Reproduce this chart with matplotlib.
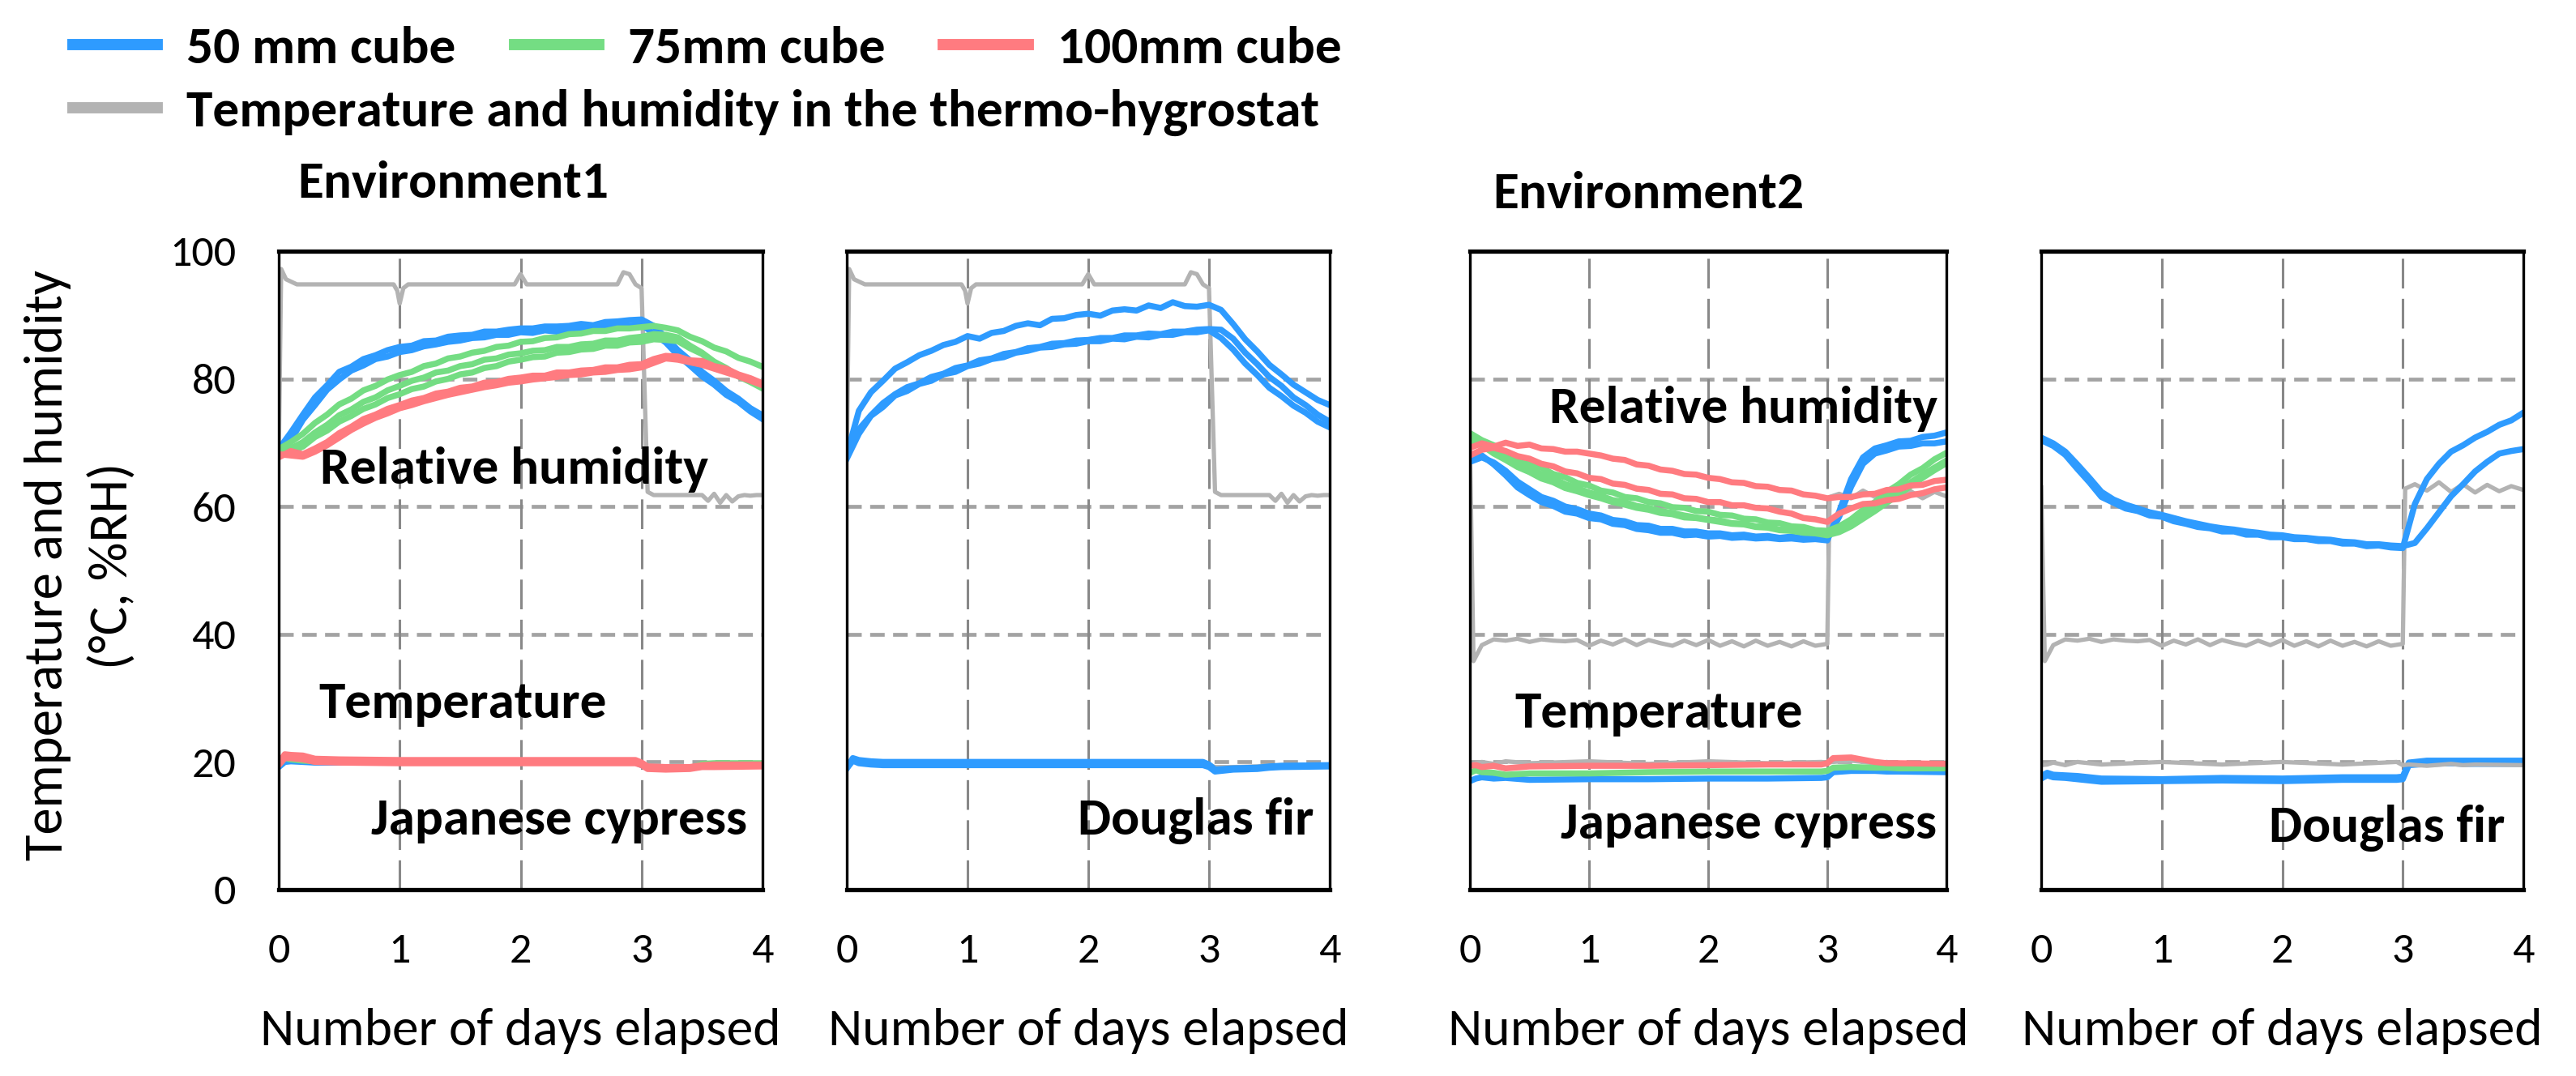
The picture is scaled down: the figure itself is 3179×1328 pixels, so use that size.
import numpy as np
import matplotlib
matplotlib.use("Agg")
import matplotlib.pyplot as plt
from matplotlib import font_manager as fm
from matplotlib.lines import Line2D

# ---- data ----
days = np.round(np.linspace(0, 4, 41), 1)

# Environment1, Japanese cypress, RH
e1c_blue_a = [69.0, 71.6, 74.4, 77.1, 79.0, 81.1, 81.9, 83.1, 83.7, 84.5, 85.0, 85.2, 85.9, 86.0, 86.6, 86.8, 86.9, 87.4, 87.4, 87.7, 87.9, 87.9, 88.2, 88.2, 88.3, 88.6, 88.4, 88.9, 89.0, 89.2, 89.3, 88.3, 86.5, 84.5, 82.9, 81.1, 79.7, 78.1, 76.9, 75.4, 74.3]
e1c_blue_b = [68.5, 70.4, 73.6, 75.9, 78.3, 79.9, 81.3, 82.1, 83.1, 83.5, 84.2, 84.5, 85.1, 85.4, 85.8, 86.0, 86.4, 86.5, 86.9, 86.9, 87.3, 87.2, 87.6, 87.4, 87.9, 87.8, 88.1, 88.0, 88.4, 88.3, 88.5, 87.1, 85.7, 83.7, 82.1, 80.4, 79.1, 77.5, 76.4, 74.9, 73.7]
e1c_green_a = [69.0, 70.1, 71.4, 73.1, 74.4, 76.0, 76.9, 78.2, 78.9, 79.9, 80.6, 81.1, 82.0, 82.4, 83.2, 83.5, 84.1, 84.4, 85.0, 85.2, 85.8, 85.9, 86.4, 86.5, 87.0, 87.1, 87.5, 87.5, 87.9, 87.9, 88.1, 88.3, 88.0, 87.6, 86.6, 85.9, 84.9, 84.3, 83.3, 82.7, 81.9]
e1c_green_b = [68.5, 69.1, 70.1, 71.6, 72.8, 74.3, 75.2, 76.4, 77.1, 78.2, 78.9, 79.7, 80.2, 81.0, 81.3, 82.0, 82.3, 83.0, 83.2, 83.8, 84.0, 84.4, 84.5, 85.0, 85.0, 85.4, 85.5, 86.0, 86.0, 86.4, 86.6, 87.0, 86.9, 86.5, 85.2, 84.1, 82.7, 81.7, 80.4, 79.5, 78.5]
e1c_green_c = [68.0, 68.6, 69.4, 70.9, 71.9, 73.3, 74.2, 75.3, 76.0, 77.0, 77.6, 78.4, 78.8, 79.6, 80.0, 80.7, 81.0, 81.7, 82.0, 82.7, 83.0, 83.4, 83.5, 84.1, 84.2, 84.6, 84.7, 85.2, 85.2, 85.7, 85.8, 86.2, 86.1, 85.9, 84.8, 83.9, 82.5, 81.6, 80.4, 79.7, 78.9]
e1c_red_a = [67.7, 68.7, 68.2, 69.1, 70.1, 71.5, 72.5, 73.7, 74.4, 75.3, 75.9, 76.6, 77.0, 77.7, 78.0, 78.6, 78.8, 79.4, 79.5, 80.0, 80.2, 80.5, 80.5, 81.0, 81.0, 81.3, 81.4, 81.8, 81.8, 82.2, 82.3, 83.1, 83.6, 83.5, 82.9, 82.8, 82.0, 81.6, 80.7, 80.1, 79.3]
e1c_red_b = [68.2, 68.0, 67.8, 68.6, 69.6, 70.8, 72.0, 73.0, 73.9, 74.6, 75.4, 75.9, 76.5, 77.0, 77.5, 77.9, 78.3, 78.7, 79.0, 79.4, 79.6, 79.9, 80.1, 80.3, 80.6, 80.7, 81.0, 81.1, 81.4, 81.5, 81.8, 82.5, 83.2, 83.0, 82.6, 82.2, 81.6, 81.0, 80.4, 79.7, 79.0]

# Environment1, Douglas fir, RH
e1f_blue_a = [68.1, 75.0, 77.9, 79.7, 81.6, 82.6, 83.7, 84.4, 85.3, 85.8, 86.7, 86.3, 87.2, 87.5, 88.3, 88.7, 88.4, 89.4, 89.5, 90.0, 90.2, 89.9, 90.7, 90.9, 90.7, 91.5, 91.1, 92.0, 91.4, 91.3, 91.6, 90.8, 88.6, 86.2, 84.3, 82.2, 80.7, 79.1, 77.9, 76.7, 75.9]
e1f_blue_b = [67.5, 71.4, 74.2, 75.6, 77.4, 78.1, 79.2, 79.7, 80.7, 81.1, 82.0, 82.4, 83.1, 83.4, 84.1, 84.4, 84.9, 85.0, 85.4, 85.5, 85.9, 85.9, 86.3, 86.2, 86.6, 86.5, 86.9, 86.9, 87.3, 87.3, 87.6, 86.4, 84.6, 82.4, 80.6, 78.6, 77.3, 75.8, 74.7, 73.3, 72.4]
e1f_blue_c = [67.8, 72.1, 74.3, 76.2, 77.6, 78.7, 79.3, 80.3, 80.8, 81.7, 82.1, 82.9, 83.2, 83.9, 84.2, 84.8, 85.0, 85.5, 85.6, 86.0, 86.1, 86.4, 86.4, 86.8, 86.8, 87.1, 87.0, 87.4, 87.4, 87.7, 87.8, 87.7, 86.3, 84.1, 82.3, 80.3, 78.9, 77.1, 75.9, 74.4, 73.3]

# Environment2, Japanese cypress, RH
e2c_blue_a = [67.6, 68.0, 66.6, 64.9, 63.0, 61.8, 60.7, 60.1, 59.2, 58.9, 58.2, 58.0, 57.3, 57.1, 56.5, 56.3, 55.9, 55.9, 55.5, 55.6, 55.3, 55.4, 55.1, 55.2, 55.0, 55.1, 54.9, 55.0, 54.8, 54.9, 54.7, 59.2, 64.3, 67.7, 69.1, 69.6, 70.2, 70.3, 70.9, 71.1, 71.6]
e2c_blue_b = [67.0, 67.7, 66.9, 65.6, 63.9, 62.7, 61.5, 60.9, 60.0, 59.6, 58.9, 58.6, 57.9, 57.7, 57.1, 57.0, 56.5, 56.5, 56.1, 56.1, 55.8, 55.8, 55.5, 55.6, 55.3, 55.4, 55.1, 55.3, 55.0, 55.1, 54.9, 58.4, 63.1, 66.7, 68.3, 68.8, 69.4, 69.5, 69.9, 69.9, 70.2]
e2c_green_a = [71.5, 70.4, 69.6, 68.4, 67.7, 66.7, 66.1, 65.1, 64.6, 63.7, 63.3, 62.5, 62.2, 61.5, 61.3, 60.7, 60.5, 59.9, 59.8, 59.3, 59.2, 58.7, 58.6, 58.1, 58.0, 57.5, 57.4, 56.9, 56.8, 56.3, 56.2, 56.9, 58.0, 59.5, 60.7, 62.3, 63.5, 65.0, 66.0, 67.4, 68.4]
e2c_green_b = [70.6, 70.0, 68.9, 67.8, 66.9, 66.0, 65.1, 64.4, 63.5, 62.9, 62.2, 61.7, 61.0, 60.7, 60.1, 59.8, 59.3, 59.0, 58.6, 58.3, 58.0, 57.8, 57.4, 57.3, 56.9, 56.8, 56.4, 56.3, 56.0, 55.9, 55.7, 56.3, 57.4, 58.7, 60.0, 61.3, 62.6, 63.8, 65.0, 66.1, 67.2]
e2c_green_c = [70.0, 69.6, 68.3, 67.3, 66.2, 65.4, 64.4, 63.8, 62.9, 62.4, 61.8, 61.3, 60.7, 60.3, 59.8, 59.5, 59.0, 58.8, 58.3, 58.2, 57.9, 57.6, 57.3, 57.2, 56.8, 56.7, 56.3, 56.2, 55.9, 55.8, 55.5, 56.0, 56.9, 58.1, 59.3, 60.6, 61.9, 63.2, 64.5, 65.7, 66.8]
e2c_red_a = [69.2, 69.9, 69.4, 70.0, 69.5, 69.7, 69.1, 69.0, 68.6, 68.6, 68.3, 68.0, 67.5, 67.3, 66.6, 66.4, 65.8, 65.6, 65.1, 65.0, 64.5, 64.3, 63.8, 63.7, 63.2, 63.1, 62.6, 62.5, 61.9, 61.7, 61.3, 61.5, 61.5, 61.9, 62.0, 62.6, 62.7, 63.3, 63.4, 64.0, 64.2]
e2c_red_b = [68.0, 68.9, 69.2, 68.7, 67.9, 67.5, 66.7, 66.3, 65.5, 65.2, 64.5, 64.3, 63.6, 63.4, 62.8, 62.6, 62.0, 61.9, 61.3, 61.2, 60.7, 60.7, 60.2, 60.2, 59.8, 59.7, 59.2, 58.9, 58.2, 58.0, 57.6, 58.9, 59.7, 60.4, 60.5, 61.0, 61.2, 61.8, 62.1, 62.7, 63.0]

# Environment2, Douglas fir, RH
e2f_blue_a = [70.4, 69.5, 68.1, 65.9, 63.8, 61.5, 60.6, 59.7, 59.3, 58.6, 58.4, 57.7, 57.3, 56.8, 56.6, 56.1, 56.1, 55.6, 55.6, 55.2, 55.2, 54.9, 54.9, 54.6, 54.6, 54.2, 54.2, 53.8, 53.9, 53.6, 53.5, 60.4, 64.3, 66.7, 68.6, 69.6, 70.8, 71.7, 72.8, 73.5, 74.7]
e2f_blue_b = [70.8, 69.9, 68.6, 66.6, 64.5, 62.3, 61.1, 60.3, 59.7, 59.1, 58.7, 58.2, 57.7, 57.3, 56.9, 56.6, 56.4, 56.1, 55.9, 55.6, 55.5, 55.2, 55.1, 54.9, 54.8, 54.5, 54.4, 54.1, 54.1, 53.9, 53.8, 54.3, 56.6, 59.1, 61.6, 63.5, 65.5, 67.0, 68.3, 68.7, 69.0]

# thermo-hygrostat RH
env1_gray_days = [0, 0.02, 0.06, 0.15, 0.95, 0.98, 1.0, 1.03, 1.07, 1.95, 2.0, 2.05, 2.8, 2.85, 2.9, 2.95, 3.0, 3.05, 3.1, 3.5, 3.55, 3.6, 3.65, 3.7, 3.75, 3.8, 3.85, 3.9, 3.95, 4.0]
env1_gray_rh = [68, 97.2, 95.6, 94.8, 94.8, 93.8, 91.8, 94.2, 94.8, 94.8, 96.4, 94.8, 94.8, 96.7, 96.4, 94.8, 94.2, 62.3, 61.8, 61.8, 60.9, 62.0, 60.6, 61.8, 60.8, 61.6, 61.8, 61.7, 61.8, 61.8]
env2_gray_days = [0.0, 0.03, 0.1, 0.2, 0.3, 0.4, 0.5, 0.6, 0.7, 0.8, 0.9, 1.0, 1.1, 1.2, 1.3, 1.4, 1.5, 1.6, 1.7, 1.8, 1.9, 2.0, 2.1, 2.2, 2.3, 2.4, 2.5, 2.6, 2.7, 2.8, 2.9, 3.0, 3.02, 3.1, 3.2, 3.3, 3.4, 3.5, 3.6, 3.7, 3.8, 3.9, 4.0]
e2c_gray_rh = [70.0, 35.8, 38.3, 39.2, 39.0, 39.3, 38.8, 39.2, 39.0, 38.9, 39.1, 38.2, 39.0, 38.4, 39.2, 38.3, 39.1, 38.6, 38.2, 39.0, 38.3, 39.1, 38.2, 38.9, 38.1, 39.0, 38.2, 38.8, 38.1, 38.9, 38.2, 38.5, 61.5, 62.0, 61.3, 62.5, 61.5, 62.3, 61.2, 62.4, 61.3, 62.3, 61.6]
e2f_gray_rh = [63.0, 35.8, 38.3, 39.2, 39.0, 39.3, 38.8, 39.2, 39.0, 38.9, 39.1, 38.2, 39.0, 38.4, 39.2, 38.3, 39.1, 38.6, 38.2, 39.0, 38.3, 39.1, 38.2, 38.9, 38.1, 39.0, 38.2, 38.8, 38.1, 38.9, 38.2, 38.5, 62.8, 63.5, 62.5, 63.8, 62.3, 63.5, 62.2, 63.4, 62.4, 63.2, 62.6]

# temperatures
temp_days = [0.0, 0.05, 0.1, 0.2, 0.3, 0.5, 1.0, 1.5, 2.0, 2.5, 2.95, 3.0, 3.05, 3.2, 3.4, 3.5, 3.6, 4.0]
e1_gray_t = [19.8, 20.0, 20.0, 20.0, 20.0, 20.0, 20.0, 20.0, 20.0, 20.0, 20.0, 19.6, 19.2, 19.2, 19.3, 19.4, 19.5, 19.6]
e1c_blue_t = [19.2, 20.0, 20.1, 20.0, 19.9, 19.9, 19.9, 19.9, 19.9, 19.9, 19.9, 19.5, 19.0, 18.9, 19.0, 19.3, 19.4, 19.5]
e1c_green_t = [19.6, 20.6, 20.4, 20.2, 20.1, 20.1, 20.0, 20.1, 20.1, 20.1, 20.1, 19.8, 19.1, 19.0, 19.0, 19.7, 19.8, 19.8]
e1c_red_t_a = [19.8, 21.2, 21.1, 21.0, 20.5, 20.4, 20.3, 20.3, 20.3, 20.3, 20.3, 19.9, 19.3, 19.2, 19.2, 19.5, 19.6, 19.6]
e1c_red_t_b = [19.5, 20.6, 20.6, 20.4, 20.0, 19.9, 19.8, 19.8, 19.8, 19.8, 19.8, 19.5, 18.9, 18.8, 18.9, 19.2, 19.2, 19.3]
e1f_blue_t_a = [19.0, 20.6, 20.3, 20.1, 20.0, 20.0, 20.0, 20.0, 20.0, 20.0, 20.0, 19.6, 18.8, 19.0, 19.1, 19.3, 19.4, 19.5]
e1f_blue_t_b = [19.0, 20.2, 19.8, 19.6, 19.5, 19.5, 19.5, 19.5, 19.5, 19.5, 19.5, 19.2, 18.5, 18.8, 18.9, 19.1, 19.2, 19.3]
e2_gray_t = [19.5, 19.8, 20.0, 19.7, 20.1, 19.8, 20.1, 19.7, 20.1, 19.8, 20.0, 19.9, 20.0, 20.2, 19.8, 20.0, 19.7, 19.9]
e2c_red_t = [19.4, 19.5, 19.2, 19.4, 19.0, 19.3, 19.4, 19.4, 19.5, 19.6, 19.6, 19.8, 20.6, 20.7, 20.0, 19.8, 19.8, 19.7]
e2c_green_t = [18.3, 18.7, 18.4, 18.3, 18.0, 18.2, 18.2, 18.4, 18.5, 18.5, 18.5, 18.6, 19.1, 19.2, 19.1, 19.1, 19.0, 19.0]
e2c_blue_t = [17.0, 17.4, 17.6, 17.4, 17.5, 17.2, 17.3, 17.3, 17.4, 17.4, 17.5, 17.6, 18.4, 18.6, 18.6, 18.5, 18.5, 18.4]
e2f_gray_t = [19.5, 19.6, 19.9, 19.5, 20.0, 19.6, 20.0, 19.6, 20.0, 19.6, 20.0, 19.5, 19.6, 19.4, 19.7, 19.5, 19.6, 19.5]
e2f_blue_t_a = [17.8, 18.3, 18.0, 17.9, 17.8, 17.4, 17.3, 17.5, 17.4, 17.6, 17.6, 17.7, 19.9, 20.2, 20.2, 20.2, 20.2, 20.2]
e2f_blue_t_b = [17.4, 17.9, 17.6, 17.5, 17.3, 16.9, 17.0, 17.1, 17.0, 17.2, 17.2, 17.3, 19.5, 19.7, 19.8, 19.7, 19.7, 19.7]

legend_labels = ["50 mm cube", "75mm cube", "100mm cube"]
gray_label = "Temperature and humidity in the thermo-hygrostat"
x_ticks = [0, 1, 2, 3, 4]
y_ticks = [0, 20, 40, 60, 80, 100]

BLUE = "#2e9bff"
GREEN = "#74dd83"
RED = "#ff7b80"
GRAY = "#b3b3b3"

# ---- fonts: Calibri look-alike ----
avail = {f.name for f in fm.fontManager.ttflist}
if "Carlito" in avail:
    face, k = "Carlito", 1.0
elif "Lato" in avail:
    face, k = "Lato", 0.93
else:
    face, k = "Roboto Condensed", 1.05
plt.rcParams["font.family"] = [face, "DejaVu Sans"]
FS_BOLD = 47 * k
FS_XLAB = 47 * k
FS_TICK = 39 * k
FS_YLAB = 48 * k

W, H = 3179, 1328
fig = plt.figure(figsize=(W / 100, H / 100), dpi=100)

panels = [(344, 941), (1045, 1641), (1814, 2402), (2519, 3114)]
top_px, bot_px = 310, 1098

axes = []
for i, (l, r) in enumerate(panels):
    ax = fig.add_axes([l / W, 1 - bot_px / H, (r - l) / W, (bot_px - top_px) / H])
    ax.set_xlim(0, 4)
    ax.set_ylim(0, 100)
    ax.set_xticks(x_ticks)
    ax.set_yticks(y_ticks)
    ax.tick_params(length=0, labelsize=FS_TICK, pad=38)
    if i != 0:
        ax.tick_params(axis="y", labelleft=False)
    for y in [20, 40, 60, 80]:
        ax.axhline(y, color="#a3a3a3", lw=3.4, dashes=(3.8, 2.2), zorder=0)
    for x in [1, 2, 3]:
        ax.axvline(x, color="#888888", lw=2.2, dashes=(12, 4.2), zorder=0)
    for s in ["top", "bottom"]:
        ax.spines[s].set_linewidth(3.8)
    for s in ["left", "right"]:
        ax.spines[s].set_linewidth(2.4)
    ax.set_xlabel("Number of days elapsed", fontsize=FS_XLAB)
    ax.xaxis.set_label_coords(0.5, -0.185)
    axes.append(ax)

ax1, ax2, ax3, ax4 = axes
LW = 5.4
GLW = 3.8

# panel 1
ax1.plot(env1_gray_days, env1_gray_rh, color=GRAY, lw=GLW)
ax1.plot(temp_days, e1_gray_t, color=GRAY, lw=GLW)
for s in [e1c_blue_a, e1c_blue_b]:
    ax1.plot(days, s, color=BLUE, lw=LW)
ax1.plot(temp_days, e1c_blue_t, color=BLUE, lw=LW)
for s in [e1c_green_a, e1c_green_b, e1c_green_c]:
    ax1.plot(days, s, color=GREEN, lw=LW)
ax1.plot(temp_days, e1c_green_t, color=GREEN, lw=LW)
for s in [e1c_red_a, e1c_red_b]:
    ax1.plot(days, s, color=RED, lw=LW)
for s in [e1c_red_t_a, e1c_red_t_b]:
    ax1.plot(temp_days, s, color=RED, lw=LW)

# panel 2
ax2.plot(env1_gray_days, env1_gray_rh, color=GRAY, lw=GLW)
ax2.plot(temp_days, e1_gray_t, color=GRAY, lw=GLW)
for s in [e1f_blue_a, e1f_blue_b, e1f_blue_c]:
    ax2.plot(days, s, color=BLUE, lw=LW)
for s in [e1f_blue_t_a, e1f_blue_t_b]:
    ax2.plot(temp_days, s, color=BLUE, lw=LW)

# panel 3
ax3.plot(env2_gray_days, e2c_gray_rh, color=GRAY, lw=GLW)
ax3.plot(temp_days, e2_gray_t, color=GRAY, lw=GLW)
for s in [e2c_blue_a, e2c_blue_b]:
    ax3.plot(days, s, color=BLUE, lw=LW)
ax3.plot(temp_days, e2c_blue_t, color=BLUE, lw=LW)
for s in [e2c_green_a, e2c_green_b, e2c_green_c]:
    ax3.plot(days, s, color=GREEN, lw=LW)
ax3.plot(temp_days, e2c_green_t, color=GREEN, lw=LW)
for s in [e2c_red_a, e2c_red_b]:
    ax3.plot(days, s, color=RED, lw=LW)
ax3.plot(temp_days, e2c_red_t, color=RED, lw=LW)

# panel 4
ax4.plot(env2_gray_days, e2f_gray_rh, color=GRAY, lw=GLW)
for s in [e2f_blue_a, e2f_blue_b]:
    ax4.plot(days, s, color=BLUE, lw=LW)
for s in [e2f_blue_t_a, e2f_blue_t_b]:
    ax4.plot(temp_days, s, color=BLUE, lw=LW)
ax4.plot(temp_days, e2f_gray_t, color=GRAY, lw=GLW)

# annotations inside panels
lab = dict(fontsize=FS_BOLD, fontweight="bold", va="baseline")
ax1.text(0.34, 63.6, "Relative humidity", **lab)
ax1.text(0.33, 26.9, "Temperature", **lab)
ax1.text(3.87, 8.6, "Japanese cypress", ha="right", **lab)
ax2.text(3.87, 8.6, "Douglas fir", ha="right", **lab)
ax3.text(0.67, 73.1, "Relative humidity", **lab)
ax3.text(0.38, 25.4, "Temperature", **lab)
ax3.text(3.92, 8.0, "Japanese cypress", ha="right", **lab)
ax4.text(3.85, 7.5, "Douglas fir", ha="right", **lab)

fig.text(367 / W, 1 - 244 / H, "Environment1", fontsize=FS_BOLD, fontweight="bold", va="baseline")
fig.text(1842 / W, 1 - 257 / H, "Environment2", fontsize=FS_BOLD, fontweight="bold", va="baseline")

fig.text(99 / W, 1 - 698 / H, "Temperature and humidity\n(\u00b0C, %RH)", rotation=90,
         ha="center", va="center", multialignment="center", fontsize=FS_YLAB, linespacing=1.45)

# legend
h = [Line2D([], [], color=c, lw=10) for c in [BLUE, GREEN, RED]]
fig.legend(h, legend_labels, loc="center left", bbox_to_anchor=(90 / W, 1 - 60 / H), ncol=3,
           frameon=False, prop=dict(size=FS_BOLD, weight="bold"), handlelength=1.6,
           handletextpad=0.55, columnspacing=1.1, borderaxespad=0, borderpad=0)
fig.legend([Line2D([], [], color=GRAY, lw=10)], [gray_label], loc="center left",
           bbox_to_anchor=(90 / W, 1 - 139 / H), frameon=False, prop=dict(size=FS_BOLD, weight="bold"),
           handlelength=1.6, handletextpad=0.55, borderaxespad=0, borderpad=0)

fig.savefig("out.png", dpi=100)
